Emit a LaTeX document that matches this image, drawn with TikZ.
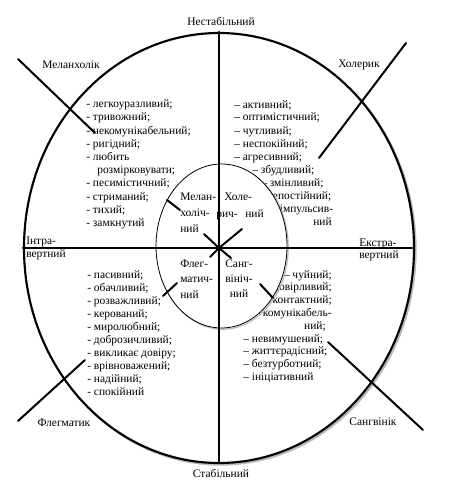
\documentclass[tikz,border=0pt]{standalone}
\usepackage{fontspec}
\setmainfont{Liberation Serif}
\begin{document}
\begin{tikzpicture}[
    % 像素坐标：原点在左上角，y 向下
    x={(0.75pt,0pt)},
    y={(0pt,-0.75pt)},
    line cap=round,
    line join=round,
    every node/.style={inner sep=0pt,font=\fontsize{8.6}{9.8}\selectfont},
    axis/.style={line width=2pt},
    cutline/.style={line width=1.5pt},
    % 多行文字：锚点取最后一行的基线
    listbox/.style={align=left,anchor=base west},
    innerlbl/.style={align=left,anchor=base west,font=\fontsize{8.6}{12}\selectfont},
  ]
  \useasboundingbox (0,0) rectangle (462,488);

  % 关键点
  \coordinate (C)  at (219,248);
  \coordinate (Ci) at (221.5,246);

  % 外椭圆（带阴影）
  \draw[gray!55,line width=1.6pt] ([shift={(1.6,1.6)}]C) ellipse [x radius=195,y radius=215];
  \draw[line width=1.6pt,fill=white] (C) ellipse [x radius=195,y radius=215];

  % 四个象限的特征列表
  \node[listbox,font=\fontsize{8.6}{9.9}\selectfont] (melList) at (86,226.5) {%
    - легкоуразливий;\\
    - тривожний;\\
    - некомунікабельний;\\
    - ригідний;\\
    - любить\\
    \hspace*{8.25pt}розмірковувати;\\
    - песимістичний;\\
    - стриманий;\\
    - тихий;\\
    - замкнутий};
  \node[listbox,font=\fontsize{8.6}{9.75}\selectfont] (cholList) at (234,225) {%
    – активний;\\
    – оптимістичний;\\
    – чутливий;\\
    – неспокійний;\\
    – агресивний;\\
    \hspace*{13.5pt}– збудливий;\\
    \hspace*{20.25pt}– змінливий;\\
    \hspace*{18pt}– непостійний;\\
    \hspace*{27.75pt}– імпульсив-\\
    \hspace*{59.25pt}ний};
  \node[listbox,font=\fontsize{8.6}{9.75}\selectfont] (phlList) at (87,395) {%
    - пасивний;\\
    - обачливий;\\
    - розважливий;\\
    - керований;\\
    - миролюбний;\\
    - доброзичливий;\\
    - викликає довіру;\\
    - врівноважений;\\
    - надійний;\\
    - спокійний};
  \node[align=right,anchor=base east,font=\fontsize{8.6}{9.56}\selectfont]
    (sangListA) at (332,329) {%
    – чуйний;\\
    – довірливий;\\
    – контактний;\\
    – комунікабель-\\
    ний;\hspace*{4.5pt}};
  \node[listbox,font=\fontsize{8.6}{9.5}\selectfont] (sangListB) at (243,380) {%
    – невимушений;\\
    – життєрадісний;\\
    – безтурботний;\\
    – ініціативний};

  % 内椭圆（白色填充，盖住列表的一部分）
  \draw[gray!55,line width=0.9pt] ([shift={(1.2,1.2)}]Ci) ellipse [x radius=65.5,y radius=82];
  \draw[line width=0.6pt,fill=white] (Ci) ellipse [x radius=65.5,y radius=82];

  % 坐标轴
  \draw[axis] (23,248) -- (412,248);
  \draw[axis] (219,32) -- (219,462);

  % 中心的叉和内椭圆上的短线
  \draw[cutline] (204,234) -- (C) -- (231,258);
  \draw[cutline] (242,229) -- (C) -- (210,257);
  \draw[cutline] (167,200) -- (180,210);
  \draw[cutline] (163,296) -- (177,283);
  \draw[cutline] (260,284) -- (273,298);

  % 外椭圆上的斜线
  \draw[cutline] (18,59)   -- (95,133);
  \draw[cutline] (406,43)  -- (319,158);
  \draw[cutline] (18,421)  -- (85,360);
  \draw[cutline] (328,342) -- (423,430);

  % 内部标签
  \node[innerlbl] (melIn) at (180,232) {Мелан-\\холіч-\\ний};
  \node[anchor=base west] (cholInA) at (224,200) {Холе-};
  \node[anchor=base west] (cholInB) at (216,217) {рич-};
  \node[anchor=base west] (cholInC) at (245,217) {ний};
  \node[innerlbl,font=\fontsize{8.6}{11.6}\selectfont] (phlIn) at (180,298) {Флег-\\матич-\\ний};
  \node[align=center,anchor=base,font=\fontsize{8.6}{11.25}\selectfont] (sangIn) at (239,297) {Санг-\\вініч-\\ний};

  % 外部标签
  \node (unstable) at (221,21)  {Нестабільний};
  \node (stable)   at (221,473) {Стабільний};
  \node (mel)      at (71,65)   {Меланхолік};
  \node (chol)     at (359,65)  {Холерик};
  \node (phl)      at (64,423)  {Флегматик};
  \node (sang)     at (373,422) {Сангвінік};
  \node[listbox,font=\fontsize{8.6}{9.75}\selectfont] (intro) at (26,257) {Інтра-\\вертний};
  \node[listbox,font=\fontsize{8.6}{9}\selectfont] (extro) at (359,258) {Екстра-\\вертний};
\end{tikzpicture}
\end{document}
